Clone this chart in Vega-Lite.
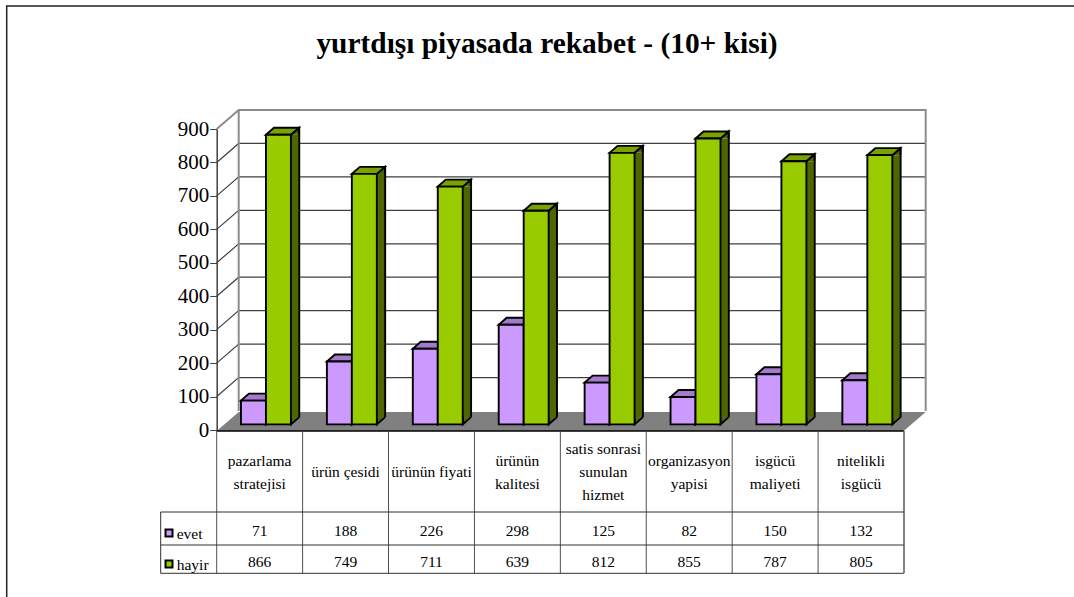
{"$schema":"https://vega.github.io/schema/vega-lite/v6.json","width":1074,"height":597,"padding":0,"autosize":{"type":"none"},"background":"white",
"title":{"text":"yurtdışı piyasada rekabet - (10+ kisi)","font":"Liberation Serif","fontSize":29.4,"fontWeight":"bold","color":"black","anchor":"middle","frame":"group","orient":"top","baseline":"alphabetic","offset":-82,"dx":10},
"config":{"view":{"stroke":null},"axisX":{"disable":true}},
"datasets":{"veri":[
{"kategori":"pazarlama\nstratejisi","seri":"evet","deger":71},{"kategori":"pazarlama\nstratejisi","seri":"hayir","deger":866},
{"kategori":"ürün çesidi","seri":"evet","deger":188},{"kategori":"ürün çesidi","seri":"hayir","deger":749},
{"kategori":"ürünün fiyati","seri":"evet","deger":226},{"kategori":"ürünün fiyati","seri":"hayir","deger":711},
{"kategori":"ürünün\nkalitesi","seri":"evet","deger":298},{"kategori":"ürünün\nkalitesi","seri":"hayir","deger":639},
{"kategori":"satis sonrasi\nsunulan\nhizmet","seri":"evet","deger":125},{"kategori":"satis sonrasi\nsunulan\nhizmet","seri":"hayir","deger":812},
{"kategori":"organizasyon\nyapisi","seri":"evet","deger":82},{"kategori":"organizasyon\nyapisi","seri":"hayir","deger":855},
{"kategori":"isgücü\nmaliyeti","seri":"evet","deger":150},{"kategori":"isgücü\nmaliyeti","seri":"hayir","deger":787},
{"kategori":"nitelikli\nisgücü","seri":"evet","deger":132},{"kategori":"nitelikli\nisgücü","seri":"hayir","deger":805}],
"cizgiler":[{"deger":0},{"deger":100},{"deger":200},{"deger":300},{"deger":400},{"deger":500},{"deger":600},{"deger":700},{"deger":800},{"deger":900}]},
"layer":[
{"layer":[
{"data":{"name":"cizgiler"},"transform":[{"filter":{"field":"deger","equal":0}}],
"mark":{"type":"point","filled":false,"size":4,"stroke":"#222222","strokeWidth":1.5,"opacity":1,"shape":"M-210,170L-210,-424L860,-424"},
"encoding":{"x":{"datum":"pazarlama\nstratejisi","type":"nominal","bandPosition":0,"scale":{"type":"band","domain":["pazarlama\nstratejisi","ürün çesidi","ürünün fiyati","ürünün\nkalitesi","satis sonrasi\nsunulan\nhizmet","organizasyon\nyapisi","isgücü\nmaliyeti","nitelikli\nisgücü"],"range":[216.7,904],"paddingInner":0,"paddingOuter":0}},
"y":{"field":"deger","type":"quantitative","scale":{"domain":[0,900],"range":[430,129],"nice":false,"zero":true},"axis":{"title":null,"offset":-216.7,"values":[0,100,200,300,400,500,600,700,800,900],"grid":false,"domainColor":"#404040","domainWidth":1.5,"tickColor":"#404040","tickWidth":1,"tickSize":7,"labelFont":"Liberation Serif","labelFontSize":21,"labelColor":"black","labelPadding":1}}}},
{"data":{"name":"cizgiler"},"transform":[{"filter":{"field":"deger","range":[100,800]}}],
"mark":{"type":"point","filled":false,"size":4,"stroke":"#404040","strokeWidth":1.2,"opacity":1,"shape":"M0,0L22,-19L709,-19"},
"encoding":{"x":{"datum":"pazarlama\nstratejisi","type":"nominal","bandPosition":0},"y":{"field":"deger","type":"quantitative","title":null}}},
{"data":{"name":"cizgiler"},"transform":[{"filter":{"field":"deger","equal":900}}],
"mark":{"type":"point","filled":false,"size":4,"stroke":"#8c8c8c","strokeWidth":2,"opacity":1,"shape":"M0,0L22,-19L709,-19L709,282M22,-19L22,282"},
"encoding":{"x":{"datum":"pazarlama\nstratejisi","type":"nominal","bandPosition":0},"y":{"field":"deger","type":"quantitative","title":null}}},
{"data":{"name":"cizgiler"},"transform":[{"filter":{"field":"deger","equal":0}}],
"mark":{"type":"point","filled":true,"size":4,"fill":"#808080","stroke":null,"opacity":1,"shape":"M0,1L687,1L709,-18L22,-18Z"},
"encoding":{"x":{"datum":"pazarlama\nstratejisi","type":"nominal","bandPosition":0},"y":{"field":"deger","type":"quantitative","title":null}}},
{"data":{"name":"cizgiler"},"transform":[{"filter":{"field":"deger","equal":0}}],
"mark":{"type":"point","filled":false,"size":4,"stroke":"black","strokeWidth":1.5,"opacity":1,"shape":"M0,1L687,1"},
"encoding":{"x":{"datum":"pazarlama\nstratejisi","type":"nominal","bandPosition":0},"y":{"field":"deger","type":"quantitative","title":null}}},
{"data":{"name":"veri"},"transform":[{"filter":{"field":"seri","equal":"hayir"}}],
"mark":{"type":"rule","strokeWidth":8,"strokeCap":"butt","yOffset":-5.6,"y2Offset":-12.6,"stroke":"#4D6600"},
"encoding":{"x":{"field":"kategori","type":"nominal","bandPosition":0.915},"y":{"field":"deger","type":"quantitative","title":null},"y2":{"datum":0}}},
{"data":{"name":"veri"},"transform":[{"filter":{"field":"seri","equal":"hayir"}}],
"mark":{"type":"rule","yOffset":-12.6,"y2Offset":-12.6,"stroke":"black","strokeWidth":1.9},
"encoding":{"x":{"field":"kategori","type":"nominal","bandPosition":0.961},"y":{"field":"deger","type":"quantitative","title":null},"y2":{"datum":0}}},
{"data":{"name":"veri"},
"mark":{"type":"point","filled":true,"size":4,"yOffset":-5.6,"stroke":"black","strokeWidth":1.9,"opacity":1,"shape":"M12.5,-7L12.5,0L20.5,-7"},
"encoding":{"x":{"field":"kategori","type":"nominal"},"xOffset":{"field":"seri","type":"nominal","scale":{"domain":["evet","hayir"],"paddingInner":0,"paddingOuter":0.72,"align":0.675}},"y":{"datum":0,"type":"quantitative"},
"fill":{"condition":{"test":"datum.seri==='evet'","value":"#664D80"},"value":"#4D6600"}}},
{"data":{"name":"veri"},
"mark":{"type":"point","filled":true,"size":4,"yOffset":-5.6,"stroke":"black","strokeWidth":1.9,"opacity":1,"shape":"M12.5,0L20.5,-7L20.5,0"},
"encoding":{"x":{"field":"kategori","type":"nominal"},"xOffset":{"field":"seri","type":"nominal"},"y":{"field":"deger","type":"quantitative","title":null},
"fill":{"condition":{"test":"datum.seri==='evet'","value":"#664D80"},"value":"#4D6600"}}},
{"data":{"name":"veri"},
"mark":{"type":"point","filled":true,"size":4,"yOffset":-5.6,"stroke":"black","strokeWidth":1.9,"opacity":1,"shape":"M-12.5,0L12.5,0L20.5,-7L-4.5,-7Z"},
"encoding":{"x":{"field":"kategori","type":"nominal"},"xOffset":{"field":"seri","type":"nominal"},"y":{"field":"deger","type":"quantitative","title":null},
"fill":{"condition":{"test":"datum.seri==='evet'","value":"#A37ACC"},"value":"#7AA300"}}},
{"data":{"name":"veri"},
"mark":{"type":"bar","yOffset":-5.6,"y2Offset":-5.6,"stroke":"black","strokeWidth":1.9},
"encoding":{"x":{"field":"kategori","type":"nominal"},"xOffset":{"field":"seri","type":"nominal"},"y":{"field":"deger","type":"quantitative","title":null,"stack":null},"y2":{"datum":0},
"fill":{"field":"seri","type":"nominal","legend":null,"scale":{"domain":["evet","hayir"],"range":["#CC99FF","#99CC00"]}}}},
{"data":{"name":"veri"},"transform":[{"filter":{"field":"seri","equal":"evet"}},{"filter":{"field":"kategori","oneOf":["ürün çesidi","ürünün fiyati"]}}],
"mark":{"type":"text","font":"Liberation Serif","fontSize":15.5,"color":"black","baseline":"middle","align":"center","yOffset":42},
"encoding":{"x":{"field":"kategori","type":"nominal"},"y":{"datum":0,"type":"quantitative"},"text":{"field":"kategori","type":"nominal"}}},
{"data":{"name":"veri"},"transform":[{"filter":{"field":"seri","equal":"evet"}},{"filter":{"field":"kategori","oneOf":["pazarlama\nstratejisi","ürünün\nkalitesi","organizasyon\nyapisi","isgücü\nmaliyeti","nitelikli\nisgücü"]}}],
"mark":{"type":"text","font":"Liberation Serif","fontSize":15.5,"color":"black","lineBreak":"\n","lineHeight":23,"baseline":"middle","align":"center","yOffset":31},
"encoding":{"x":{"field":"kategori","type":"nominal"},"y":{"datum":0,"type":"quantitative"},"text":{"field":"kategori","type":"nominal"}}},
{"data":{"name":"veri"},"transform":[{"filter":{"field":"seri","equal":"evet"}},{"filter":{"field":"kategori","equal":"satis sonrasi\nsunulan\nhizmet"}}],
"mark":{"type":"text","font":"Liberation Serif","fontSize":15.5,"color":"black","lineBreak":"\n","lineHeight":23,"baseline":"middle","align":"center","yOffset":19},
"encoding":{"x":{"field":"kategori","type":"nominal"},"y":{"datum":0,"type":"quantitative"},"text":{"field":"kategori","type":"nominal"}}}
]},
{"layer":[
{"data":{"name":"veri"},"transform":[{"filter":{"field":"seri","equal":"evet"}}],
"mark":{"type":"point","filled":false,"size":4,"stroke":"#505050","strokeWidth":1,"opacity":1,"shape":"M0,-100L0,42.3"},
"encoding":{"x":{"field":"kategori","type":"nominal","bandPosition":0},
"y":{"field":"seri","type":"nominal","axis":null,"scale":{"type":"point","domain":["evet","hayir"],"range":[531,562],"padding":0}}}},
{"data":{"name":"veri"},"transform":[{"filter":{"field":"seri","equal":"evet"}},{"filter":{"field":"kategori","equal":"nitelikli\nisgücü"}}],
"mark":{"type":"point","filled":false,"size":4,"stroke":"#303030","strokeWidth":1.2,"opacity":1,"shape":"M0,-100L0,42.3"},
"encoding":{"x":{"field":"kategori","type":"nominal","bandPosition":1},"y":{"field":"seri","type":"nominal","axis":null}}},
{"data":{"name":"veri"},"transform":[{"filter":{"field":"seri","equal":"evet"}},{"filter":{"field":"kategori","equal":"pazarlama\nstratejisi"}}],
"mark":{"type":"point","filled":false,"size":4,"stroke":"#303030","strokeWidth":1,"opacity":1,"shape":"M-56,-19L687,-19M-56,14L687,14M-56,42.3L687,42.3M-56,-19L-56,42.3"},
"encoding":{"x":{"field":"kategori","type":"nominal","bandPosition":0},"y":{"field":"seri","type":"nominal","axis":null}}},
{"data":{"name":"veri"},
"mark":{"type":"text","font":"Liberation Serif","fontSize":15.5,"color":"black","baseline":"middle","align":"center"},
"encoding":{"x":{"field":"kategori","type":"nominal"},"y":{"field":"seri","type":"nominal","axis":null},"text":{"field":"deger","type":"quantitative"}}},
{"data":{"name":"veri"},"transform":[{"filter":{"field":"kategori","equal":"pazarlama\nstratejisi"}}],
"mark":{"type":"text","font":"Liberation Serif","fontSize":15.5,"color":"black","baseline":"middle","align":"left","xOffset":-40,"yOffset":3},
"encoding":{"x":{"field":"kategori","type":"nominal","bandPosition":0},"y":{"field":"seri","type":"nominal","axis":null},"text":{"field":"seri","type":"nominal"}}},
{"data":{"name":"veri"},"transform":[{"filter":{"field":"kategori","equal":"pazarlama\nstratejisi"}}],
"mark":{"type":"point","filled":true,"shape":"square","size":49,"stroke":"black","strokeWidth":2,"opacity":1,"xOffset":-47.7,"yOffset":2},
"encoding":{"x":{"field":"kategori","type":"nominal","bandPosition":0},"y":{"field":"seri","type":"nominal","axis":null},
"fill":{"field":"seri","type":"nominal","legend":null}}}
]}
],
"resolve":{"scale":{"y":"independent"},"axis":{"y":"independent"}}}
